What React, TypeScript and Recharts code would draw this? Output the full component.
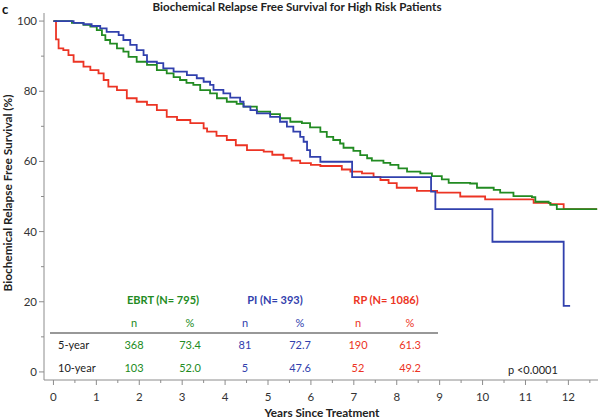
import React from "react";
import { LineChart, Line, XAxis, YAxis } from "recharts";

// Step-function survival data: [years, survival %] (value holds from t onward)
const ebrtPoints: [number, number][] = [
  [0, 100], [0.43, 99.5], [0.7, 98.9], [0.86, 98.4], [1.01, 97.4], [1.13, 96.0], [1.21, 94.6],
  [1.32, 93.6], [1.48, 92.2], [1.63, 91.3], [1.75, 89.8], [1.94, 88.4], [2.18, 87.5],
  [2.41, 86.0], [2.64, 85.1], [2.8, 84.0], [2.95, 83.2], [3.1, 82.4], [3.26, 81.8], [3.42, 80.3],
  [3.65, 79.4], [3.81, 78.0], [4.04, 77.0], [4.27, 76.4], [4.43, 75.6], [4.74, 74.2],
  [5.05, 73.5], [5.28, 72.3], [5.52, 71.3], [5.79, 70.9], [5.98, 69.7], [6.22, 68.4],
  [6.37, 67.0], [6.52, 66.1], [6.68, 65.1], [6.76, 63.9], [6.99, 63.0], [7.15, 61.8],
  [7.31, 60.9], [7.42, 60.2], [7.69, 59.6], [7.85, 59.0], [8.04, 58.0], [8.24, 57.1],
  [8.55, 56.6], [8.82, 55.8], [9.05, 54.9], [9.21, 53.9], [9.71, 53.7], [9.87, 52.5],
  [10.26, 51.9], [10.41, 51.1], [10.72, 50.1], [11.15, 49.8], [11.23, 48.5], [11.54, 48.2],
  [11.58, 47.6], [11.73, 46.4], [12.67, 46.4],
];

const piPoints: [number, number][] = [
  [0, 100], [0.47, 99.5], [0.7, 99.1], [0.89, 98.6], [1.09, 97.9], [1.24, 96.9], [1.52, 96.0],
  [1.63, 94.6], [1.79, 93.2], [1.94, 91.7], [2.1, 90.3], [2.18, 88.4], [2.41, 88.0],
  [2.56, 86.5], [2.8, 85.6], [3.11, 84.6], [3.34, 83.7], [3.5, 82.7], [3.65, 81.8],
  [3.73, 80.4], [3.96, 79.4], [4.12, 78.2], [4.35, 77.0], [4.43, 75.6], [4.59, 74.6],
  [4.74, 73.7], [5.05, 72.7], [5.28, 71.3], [5.44, 69.9], [5.59, 68.5], [5.75, 67.0],
  [5.83, 65.6], [5.91, 63.2], [5.98, 61.3], [6.22, 59.9], [6.96, 55.5], [8.8, 51.4],
  [8.9, 46.4], [10.23, 37.1], [11.89, 18.8], [12.04, 18.8],
];

const rpPoints: [number, number][] = [
  [0, 100], [0.06, 94.8], [0.12, 92.2], [0.23, 91.7], [0.35, 90.3], [0.47, 88.4], [0.7, 87.0],
  [0.86, 86.0], [1.05, 85.1], [1.17, 83.2], [1.28, 81.3], [1.48, 80.3], [1.71, 78.0],
  [1.94, 77.0], [2.18, 76.1], [2.41, 74.6], [2.64, 72.7], [2.88, 71.8], [3.19, 70.9],
  [3.5, 69.4], [3.58, 68.5], [3.8, 67.3], [4.04, 66.1], [4.25, 64.6], [4.51, 63.2],
  [4.9, 62.8], [5.1, 61.9], [5.36, 60.9], [5.55, 60.2], [5.75, 59.5], [6.0, 59.0],
  [6.22, 58.7], [6.72, 57.7], [6.92, 57.1], [7.19, 56.6], [7.46, 55.6], [7.62, 54.7],
  [7.81, 53.8], [8.0, 52.5], [8.47, 51.6], [8.94, 51.1], [9.48, 50.0], [10.06, 49.2],
  [11.19, 48.2], [11.58, 47.8], [11.89, 46.4], [12.67, 46.4],
];

const xTicks = [0, 0.5, 1, 1.5, 2, 2.5, 3, 3.5, 4, 4.5, 5, 5.5, 6, 6.5, 7, 7.5, 8, 8.5, 9, 9.5, 10, 10.5, 11, 11.5, 12, 12.5];
const yTicks = [0, 10, 20, 30, 40, 50, 60, 70, 80, 90, 100];

const tableHeaders = ["EBRT (N= 795)", "PI (N= 393)", "RP (N= 1086)"];
const rowLabels = ["5-year", "10-year"];
const row5 = ["368", "73.4", "81", "72.7", "190", "61.3"];
const row10 = ["103", "52.0", "5", "47.6", "52", "49.2"];

const toData = (pts: [number, number][]) => pts.map(([t, v]) => ({ t, v }));
const ebrtData = toData(ebrtPoints);
const piData = toData(piPoints);
const rpData = toData(rpPoints);

const GREEN = "#228b22";
const BLUE = "#3140ad";
const RED = "#ec3424";
const AXIS = "#8c8c8c";
const FONT = "Lato, 'Open Sans', sans-serif";

const XTick = (props: any) => {
  const { x, y, payload } = props;
  const major = Number.isInteger(payload.value);
  return (
    <g>
      <line x1={x} x2={x} y1={y} y2={y + (major ? 5 : 3)} stroke={AXIS} strokeWidth={1} />
      {major && (
        <text x={x} y={y + 21} textAnchor="middle" fontSize={11.5} fill="#333" fontFamily={FONT}>
          {payload.value}
        </text>
      )}
    </g>
  );
};

const YTick = (props: any) => {
  const { x, y, payload } = props;
  const major = payload.value % 20 === 0;
  return (
    <g>
      <line x1={x - (major ? 5 : 3)} x2={x} y1={y} y2={y} stroke={AXIS} strokeWidth={1} />
      {major && (
        <text x={x - 7} y={y + 4} textAnchor="end" fontSize={11.5} fill="#333" fontFamily={FONT}>
          {payload.value}
        </text>
      )}
    </g>
  );
};

const colX = [134, 190, 245, 300, 358, 410];
const colColors = [GREEN, GREEN, BLUE, BLUE, RED, RED];
const headerX = [163, 275, 386];
const headerColors = [GREEN, BLUE, RED];

export default function App() {
  return (
    <div style={{ position: "absolute", left: 0, top: 0, width: 600, height: 419, background: "#fff" }}>
      <LineChart width={600} height={419} margin={{ top: 13, right: 2, bottom: 9, left: 0 }}>
        <XAxis
          type="number"
          dataKey="t"
          domain={[-0.22, 12.69]}
          allowDataOverflow
          ticks={xTicks}
          interval={0}
          height={30}
          tickSize={0}
          tickMargin={0}
          tickLine={false}
          axisLine={{ stroke: AXIS, strokeWidth: 1 }}
          tick={<XTick />}
        />
        <YAxis
          type="number"
          domain={[-2.3, 102.3]}
          allowDataOverflow
          ticks={yTicks}
          interval={0}
          width={44}
          tickSize={0}
          tickMargin={0}
          tickLine={false}
          axisLine={{ stroke: AXIS, strokeWidth: 1 }}
          tick={<YTick />}
        />
        <Line data={rpData} dataKey="v" type="stepAfter" stroke={RED} strokeWidth={1.8} dot={false} isAnimationActive={false} />
        <Line data={ebrtData} dataKey="v" type="stepAfter" stroke={GREEN} strokeWidth={1.8} dot={false} isAnimationActive={false} />
        <Line data={piData} dataKey="v" type="stepAfter" stroke={BLUE} strokeWidth={1.8} dot={false} isAnimationActive={false} />
      </LineChart>
      <svg width={600} height={419} style={{ position: "absolute", left: 0, top: 0, pointerEvents: "none" }} fontFamily={FONT}>
        <text x={2} y={14} fontSize={13} fontWeight="bold" fill="#111">c</text>
        <text x={297} y={11} textAnchor="middle" fontSize={11.5} fontWeight="bold" fill="#222" textLength={289} lengthAdjust="spacingAndGlyphs">
          Biochemical Relapse Free Survival for High Risk Patients
        </text>
        <text transform="translate(12,193) rotate(-90)" textAnchor="middle" fontSize={11.5} fontWeight="bold" fill="#222" textLength={197} lengthAdjust="spacingAndGlyphs">
          Biochemical Relapse Free Survival (%)
        </text>
        <text x={322} y={417} textAnchor="middle" fontSize={11.5} fontWeight="bold" fill="#222" textLength={115} lengthAdjust="spacingAndGlyphs">
          Years Since Treatment
        </text>
        {tableHeaders.map((h, i) => (
          <text key={h} x={headerX[i]} y={304} textAnchor="middle" fontSize={11} fontWeight="bold" fill={headerColors[i]}>
            {h}
          </text>
        ))}
        {colX.map((x, i) => (
          <text key={"h" + i} x={x} y={327} textAnchor="middle" fontSize={11} fill={colColors[i]}>
            {i % 2 === 0 ? "n" : "%"}
          </text>
        ))}
        <line x1={50} x2={438} y1={333} y2={333} stroke="#333" strokeWidth={1.2} />
        <text x={58} y={349} fontSize={11} fill="#222">{rowLabels[0]}</text>
        <text x={58} y={372} fontSize={11} fill="#222">{rowLabels[1]}</text>
        {row5.map((s, i) => (
          <text key={"a" + i} x={colX[i]} y={349} textAnchor="middle" fontSize={11} fill={colColors[i]}>{s}</text>
        ))}
        {row10.map((s, i) => (
          <text key={"b" + i} x={colX[i]} y={372} textAnchor="middle" fontSize={11} fill={colColors[i]}>{s}</text>
        ))}
        <text x={508} y={374} fontSize={11} fill="#222">p &lt;0.0001</text>
      </svg>
    </div>
  );
}
